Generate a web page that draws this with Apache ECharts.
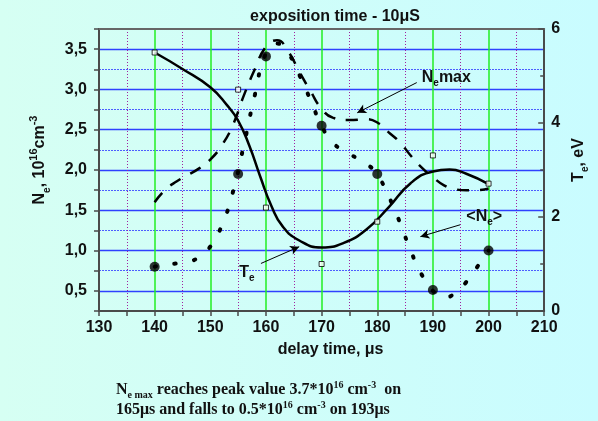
<!DOCTYPE html>
<html>
<head>
<meta charset="utf-8">
<script src="https://cdn.jsdelivr.net/npm/echarts@6/dist/echarts.min.js"></script>
<style>
  html, body { margin: 0; padding: 0; }
  #main { width: 598px; height: 421px; }
</style>
</head>
<body>
<div id="main"></div>
<script>
// Te fit curve (right axis, eV)
var teCurve = [
  [140, 5.5], [145, 5.15], [150, 4.76], [153, 4.38], [155, 4.05], [157, 3.52],
  [159, 2.85], [161, 2.23], [163, 1.8], [166, 1.5], [170, 1.35], [174, 1.45],
  [178, 1.73], [182, 2.2], [186, 2.72], [190, 2.97], [193, 3.01], [196, 2.92],
  [200, 2.7]
];
// Te measured (open squares)
var tePoints = [[140, 5.5], [155, 4.71], [160, 2.2], [170, 1.0], [180, 1.9], [190, 3.31], [200, 2.71]];
// Ne max (dashed, left axis)
var neMax = [
  [140, 1.6], [142, 1.76], [144, 1.86], [146, 1.94], [148, 2.02], [150, 2.13],
  [152, 2.3], [154, 2.55], [156, 2.92], [158, 3.25], [160, 3.53], [162, 3.61],
  [164, 3.47], [166, 3.22], [168, 2.98], [170, 2.76], [172, 2.65], [175, 2.62],
  [178, 2.63], [180, 2.59], [182, 2.47], [184, 2.35], [186, 2.18], [188, 2.03],
  [190, 1.91], [192, 1.81], [194, 1.76], [196, 1.75], [198, 1.75], [200, 1.77]
];
// <Ne> (dotted, left axis)
var neMean = [
  [140, 0.8], [142, 0.83], [144, 0.84], [146, 0.86], [148, 0.92], [150, 1.05],
  [152, 1.3], [154, 1.71], [156, 2.3], [158, 2.93], [160, 3.45], [162, 3.57],
  [164, 3.45], [166, 3.18], [168, 2.87], [170, 2.55], [172, 2.34], [175, 2.2],
  [178, 2.08], [180, 1.94], [182, 1.68], [184, 1.36], [186, 1.0], [188, 0.7],
  [190, 0.5], [192, 0.42], [194, 0.47], [196, 0.61], [198, 0.8], [200, 1.0]
];
// <Ne> measured (filled circles)
var nePoints = [[140, 0.8], [155, 1.95], [160, 3.41], [170, 2.55], [180, 1.95], [190, 0.51], [200, 1.0]];

// annotation arrows / labels, in data units (x, Ne)
var arrows = [
  [[187.1, 3.085], [176.4, 2.71]],
  [[194.9, 1.32], [187.75, 1.173]],
  [[159.1, 0.84], [165.97, 1.048]]
];
var notes = [
  { at: [188.0, 3.15], text: '{b|N}{s|e}{b|max}' },
  { at: [196.0, 1.42], text: '{b|<N}{s|e}{b|>}' },
  { at: [155.2, 0.73], text: '{b|T}{s|e}' }
];

var myChart = echarts.init(document.getElementById('main'));

var font = 'Liberation Sans, Arial, sans-serif';
var axisGray = '#4a4a4a';

var option = {
  backgroundColor: new echarts.graphic.LinearGradient(0, 0, 1, 0, [
    { offset: 0, color: '#d6fff3' },
    { offset: 1, color: '#c9fcff' }
  ]),
  animation: false,
  title: {
    text: 'exposition time - 10\u03bcS',
    left: 330,
    textAlign: 'center',
    top: 4,
    textStyle: { fontFamily: font, fontSize: 16, fontWeight: 'bold', color: '#111' }
  },
  grid: { left: 99, right: 52, top: 29, bottom: 110 },
  xAxis: [{
    type: 'value',
    min: 130,
    max: 210,
    interval: 10,
    name: 'delay time, \u03bcs',
    nameLocation: 'middle',
    nameGap: 31,
    nameTextStyle: { fontFamily: font, fontSize: 16, fontWeight: 'bold', color: '#111', padding: [0, 0, 0, 18] },
    axisLine: { lineStyle: { color: axisGray, width: 2 } },
    axisTick: { show: true, length: 5, lineStyle: { color: axisGray, width: 1.5 } },
    minorTick: { show: true, splitNumber: 2, length: 5, lineStyle: { color: axisGray, width: 1.5 } },
    axisLabel: { fontFamily: font, fontSize: 16, fontWeight: 'bold', color: '#111', margin: 9 },
    splitLine: { show: true, lineStyle: { color: '#22ee22', width: 1.5 } },
    minorSplitLine: { show: true, lineStyle: { color: '#a020a0', width: 1, type: [1, 2] } }
  }, {
    // top frame
    type: 'value',
    position: 'top',
    min: 130,
    max: 210,
    axisLine: { show: true, lineStyle: { color: '#666', width: 2 } },
    axisTick: { show: false },
    axisLabel: { show: false },
    splitLine: { show: false }
  }],
  yAxis: [{
    type: 'value',
    min: 0.25,
    max: 3.75,
    interval: 0.25,
    position: 'left',
    name: '{b|N}{s|e}{b|, 10}{p|16}{b|cm}{p|-3}',
    nameLocation: 'middle',
    nameRotate: 90,
    nameGap: 47,
    nameTextStyle: {
      padding: [0, 0, 0, 20],
      rich: {
        b: { fontFamily: font, fontSize: 16, fontWeight: 'bold', color: '#111', lineHeight: 24 },
        s: { fontFamily: font, fontSize: 10, fontWeight: 'bold', color: '#111', verticalAlign: 'bottom' },
        p: { fontFamily: font, fontSize: 11, fontWeight: 'bold', color: '#111', verticalAlign: 'top' }
      }
    },
    axisLine: { show: true, lineStyle: { color: axisGray, width: 2 } },
    axisTick: { show: true, length: 5, lineStyle: { color: axisGray, width: 1.5 } },
    axisLabel: {
      fontFamily: font, fontSize: 16, fontWeight: 'bold', color: '#111', margin: 12,
      formatter: function (v) {
        var h = v * 2;
        if (Math.abs(h - Math.round(h)) > 1e-6 || v < 0.4 || v > 3.6) return '';
        return v.toFixed(1).replace('.', ',');
      }
    },
    splitLine: { show: true, lineStyle: { color: ['rgba(0,0,0,0)', '#2f40ff'], width: 1.4 } }
  }, {
    type: 'value',
    min: 0,
    max: 6,
    interval: 2,
    position: 'right',
    name: '{b|T}{s|e}{b|, eV}',
    nameLocation: 'middle',
    nameRotate: 90,
    nameGap: 11,
    nameTextStyle: {
      padding: [0, 0, 0, 20],
      rich: {
        b: { fontFamily: font, fontSize: 16, fontWeight: 'bold', color: '#111', lineHeight: 22 },
        s: { fontFamily: font, fontSize: 10, fontWeight: 'bold', color: '#111', verticalAlign: 'bottom' }
      }
    },
    axisLine: { show: true, lineStyle: { color: axisGray, width: 2 } },
    axisTick: { show: true, inside: true, length: 6, lineStyle: { color: axisGray, width: 1.5 } },
    minorTick: { show: true, splitNumber: 2, length: 4, lineStyle: { color: axisGray, width: 1.5 } },
    axisLabel: { fontFamily: font, fontSize: 16, fontWeight: 'bold', color: '#111', margin: 7 },
    splitLine: { show: false }
  }, {
    // dotted quarter grid lines
    type: 'value',
    min: 0.25,
    max: 3.75,
    interval: 0.5,
    show: true,
    position: 'left',
    axisLine: { show: false },
    axisTick: { show: false },
    axisLabel: { show: false },
    splitLine: { show: true, lineStyle: { color: '#4d5dff', width: 1, type: [2, 1] } }
  }],
  series: [{
    name: 'Te',
    type: 'line',
    yAxisIndex: 1,
    smooth: true,
    symbol: 'none',
    lineStyle: { color: '#000', width: 2.5 },
    data: teCurve,
    z: 3
  }, {
    name: 'Te points',
    type: 'scatter',
    yAxisIndex: 1,
    symbol: 'rect',
    symbolSize: 5,
    itemStyle: { color: '#fff', borderColor: '#000', borderWidth: 1 },
    data: tePoints,
    z: 5
  }, {
    name: 'Ne max',
    type: 'line',
    yAxisIndex: 0,
    smooth: true,
    symbol: 'none',
    lineStyle: { color: '#000', width: 2.5, type: [12, 11] },
    data: neMax,
    z: 3,
    markLine: {
      silent: true,
      symbol: ['none', 'arrow'],
      symbolSize: [7, 9],
      label: { show: false },
      lineStyle: { color: '#000', width: 1, type: 'solid' },
      data: arrows.map(function (a) {
        return [{ coord: a[0] }, { coord: a[1] }];
      })
    }
  }, {
    name: '<Ne>',
    type: 'line',
    yAxisIndex: 0,
    smooth: true,
    symbol: 'none',
    lineStyle: { color: '#000', width: 4, type: [1.5, 18.5], cap: 'round' },
    data: neMean,
    z: 3
  }, {
    name: '<Ne> points',
    type: 'scatter',
    yAxisIndex: 0,
    symbol: 'circle',
    symbolSize: 10,
    itemStyle: { color: '#000' },
    data: nePoints,
    z: 5
  }]
};

myChart.setOption(option);

// text annotations placed through the axes
var rich = {
  b: { fontFamily: font, fontSize: 16, fontWeight: 'bold', fill: '#111', lineHeight: 22 },
  s: { fontFamily: font, fontSize: 10, fontWeight: 'bold', fill: '#111', verticalAlign: 'bottom' }
};
var serif = 'Liberation Serif, Times New Roman, serif';
var crich = {
  b: { fontFamily: serif, fontSize: 16, fontWeight: 'bold', fill: '#111', lineHeight: 20 },
  sub: { fontFamily: serif, fontSize: 10, fontWeight: 'bold', fill: '#111', verticalAlign: 'bottom' },
  sup: { fontFamily: serif, fontSize: 10, fontWeight: 'bold', fill: '#111', verticalAlign: 'top' }
};
var gfx = notes.map(function (n) {
  var p = myChart.convertToPixel({ xAxisIndex: 0, yAxisIndex: 0 }, n.at);
  return {
    type: 'text', x: p[0], y: p[1],
    style: { text: n.text, rich: rich, verticalAlign: 'middle' }
  };
});
gfx.push({
  type: 'text', x: 116, y: 390,
  style: { text: '{b|N}{sub|e max}{b| reaches peak value 3.7*10}{sup|16}{b| cm}{sup|-3}{b|  on}', rich: crich, verticalAlign: 'middle' }
});
gfx.push({
  type: 'text', x: 116, y: 410,
  style: { text: '{b|165\u03bcs and falls to 0.5*10}{sup|16}{b| cm}{sup|-3}{b| on 193\u03bcs}', rich: crich, verticalAlign: 'middle' }
});
myChart.setOption({ graphic: gfx });
</script>
</body>
</html>
